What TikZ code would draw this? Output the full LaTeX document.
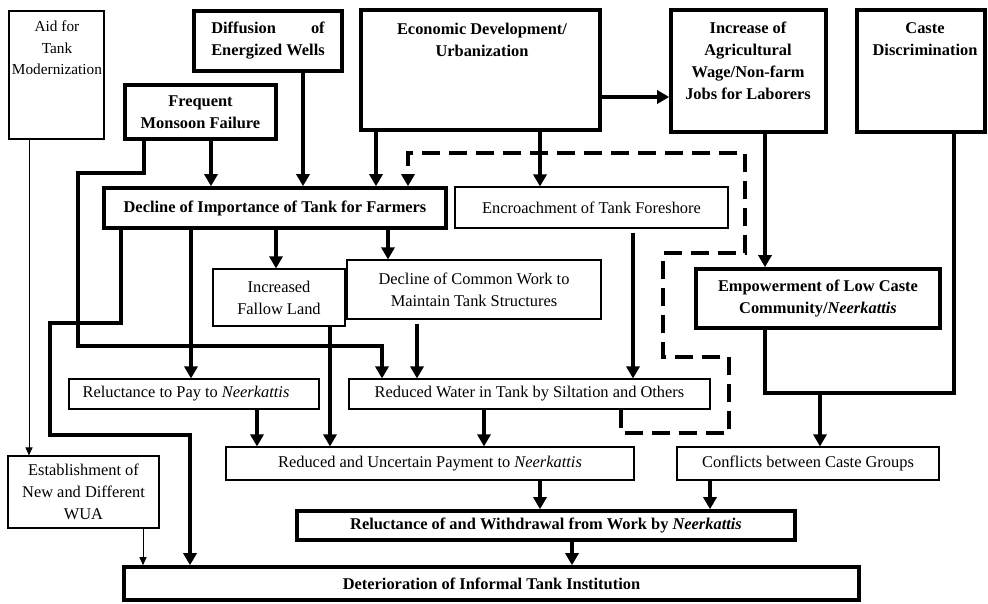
\documentclass[tikz,border=0pt]{standalone}
\usepackage{fontspec}
\setmainfont{Liberation Serif}
\usetikzlibrary{arrows.meta}
\newlength\dfw
\begin{document}
\begin{tikzpicture}[x=1pt,y=-1pt,
 font=\fontsize{16.4}{22}\selectfont,
 bx/.style={draw, line width=1.1pt, inner sep=0pt, align=center},
 tbx/.style={draw, line width=3.6pt, inner sep=0pt, align=center, font=\fontsize{16.4}{22}\selectfont\bfseries},
 arr/.style={line width=3.6pt, -{Triangle[length=12pt,width=13pt]}},
 ln/.style={line width=3.6pt},
 tarr/.style={line width=1pt, -{Triangle[length=8pt,width=7pt]}},
 dsh/.style={line width=3.6pt, dash pattern=on 18pt off 9pt, -{Triangle[length=12pt,width=13pt]}},
 txt/.style={inner sep=0pt, align=center, anchor=north},
 btxt/.style={txt, font=\fontsize{16.4}{22}\selectfont\bfseries},
 sz/.style n args={2}{minimum width=#1pt, minimum height=#2pt}
]
\useasboundingbox (0,0) rectangle (988,603);
% boxes
\node[bx, sz={95}{128}] (aid) at (56.5,75) {};
\node[txt, font=\fontsize{15.3}{21.5}\selectfont] (aidT) at (57,21) {Aid for\\Tank\\Modernization};
\node[tbx, sz={148}{60}] (dif) at (268,41) {\settowidth\dfw{Energized Wells}\makebox[\dfw][s]{Diffusion of}\\Energized Wells};
\node[tbx, sz={151}{54}] (fmf) at (200.5,112) {Frequent\\Monsoon Failure};
\node[tbx, sz={239}{120}] (eco) at (480.5,70) {};
\node[btxt] (ecoT) at (482,23) {Economic Development/\\Urbanization};
\node[tbx, sz={155}{122}] (inc) at (748.5,71) {};
\node[btxt] (incT) at (748,22) {Increase of\\Agricultural\\Wage/Non-farm\\Jobs for Laborers};
\node[tbx, sz={128}{122}] (cas) at (921,71) {};
\node[btxt] (casT) at (925,22) {Caste\\Discrimination};
\node[tbx, sz={342}{40}] (dec) at (275,208) {Decline of Importance of Tank for Farmers};
\node[bx, sz={273}{41}] (enc) at (591.5,207.5) {Encroachment of Tank Foreshore};
\node[bx, sz={132}{57}] (fal) at (279,297.5) {Increased\\Fallow Land};
\node[bx, sz={254}{59}] (com) at (474,289.5) {Decline of Common Work to\\Maintain Tank Structures};
\node[tbx, sz={244}{59}] (emp) at (818,298.5) {Empowerment of Low Caste\\Community/\textit{Neerkattis}};
\node[bx, sz={250}{30}] (rpay) at (194,394) {Reluctance to Pay to \textit{Neerkattis}\hspace{16pt}};
\node[bx, sz={361}{30}] (redw) at (529.5,394) {Reduced Water in Tank by Siltation and Others};
\node[bx, sz={151}{72}] (est) at (83.5,492) {Establishment of\\New and Different\\WUA};
\node[bx, sz={408}{33}] (redp) at (430,463.5) {Reduced and Uncertain Payment to \textit{Neerkattis}};
\node[bx, sz={262}{33}] (conf) at (808,463.5) {Conflicts between Caste Groups};
\node[tbx, sz={498}{29}] (relw) at (546,525.5) {Reluctance of and Withdrawal from Work by \textit{Neerkattis}};
\node[tbx, sz={735}{33}] (det) at (491.5,583.5) {Deterioration of Informal Tank Institution};
% connectors
\draw[tarr] (29,0 |- aid.south) -- (29,0 |- est.north);
\draw[tarr] (143,0 |- est.south) -- (143,0 |- det.north);
\draw[arr] (211,0 |- fmf.south) -- (211,0 |- dec.north);
\draw[arr] (144,0 |- fmf.south) -- (144,173) -- (78,173) -- (78,346) -- (382,346) -- (382,0 |- redw.north);
\draw[arr] (303,0 |- dif.south) -- (303,0 |- dec.north);
\draw[arr] (376,0 |- eco.south) -- (376,0 |- dec.north);
\draw[arr] (540,0 |- eco.south) -- (540,0 |- enc.north);
\draw[arr] (eco.east |- 0,97) -- (inc.west |- 0,97);
\draw[dsh] (621,0 |- redw.south) -- (621,433) -- (729,433) -- (729,357) -- (663,357) -- (663,253) -- (745,253) -- (745,153) -- (408,153) -- (408,0 |- dec.north);
\draw[arr] (276,0 |- dec.south) -- (276,0 |- fal.north);
\draw[arr] (388,0 |- dec.south) -- (388,0 |- com.north);
\draw[arr] (191,0 |- dec.south) -- (191,0 |- rpay.north);
\draw[arr] (121,0 |- dec.south) -- (121,323) -- (50,323) -- (50,435) -- (190,435) -- (190,0 |- det.north);
\draw[arr] (330,0 |- fal.south) -- (330,0 |- redp.north);
\draw[arr] (257,0 |- rpay.south) -- (257,0 |- redp.north);
\draw[arr, shorten <=4pt] (417,0 |- com.south) -- (417,0 |- redw.north);
\draw[arr, shorten <=4pt] (633,0 |- enc.south) -- (633,0 |- redw.north);
\draw[arr] (484,0 |- redw.south) -- (484,0 |- redp.north);
\draw[arr] (765,0 |- inc.south) -- (765,0 |- emp.north);
\draw[ln] (954,0 |- cas.south) -- (954,393) -- (765,393) -- (765,0 |- emp.south);
\draw[arr] (820,393) -- (820,0 |- conf.north);
\draw[arr] (540,0 |- redp.south) -- (540,0 |- relw.north);
\draw[arr] (710,0 |- conf.south) -- (710,0 |- relw.north);
\draw[arr] (572,0 |- relw.south) -- (572,0 |- det.north);
\end{tikzpicture}
\end{document}
